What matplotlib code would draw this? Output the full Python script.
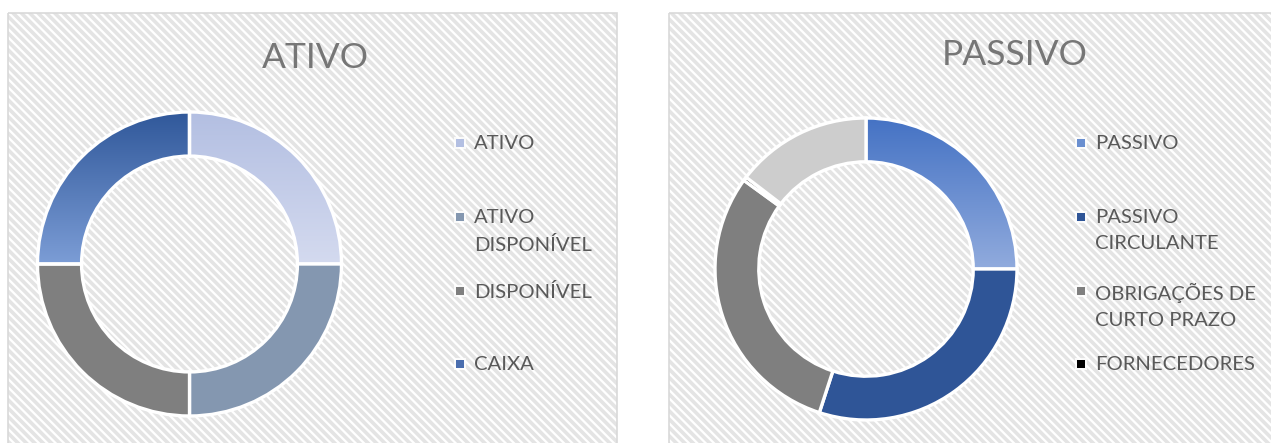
import numpy as np
import matplotlib
matplotlib.use("Agg")
import matplotlib.pyplot as plt
from matplotlib.patches import Rectangle
from matplotlib.colors import LinearSegmentedColormap

# ---------------- data ----------------
ativo_labels = ["ATIVO", "ATIVO\nDISPONÍVEL", "DISPONÍVEL", "CAIXA"]
ativo_values = [25, 25, 25, 25]
passivo_labels = ["PASSIVO", "PASSIVO\nCIRCULANTE", "OBRIGAÇÕES DE\nCURTO PRAZO", "FORNECEDORES", ""]
passivo_values = [25, 30, 30, 0.4, 14.6]

ativo_colors = ["#C2CBE8", "#8497B0", "#7F7F7F", "#4A6DAE"]
ativo_grad = {0: ("#B3BFE2", "#D4DAEF"), 3: ("#30589A", "#7C9DD6")}
passivo_colors = ["#6A8FD0", "#2F5597", "#7F7F7F", "#000000", "#CDCDCD"]
passivo_grad = {0: ("#4472C4", "#91ABDD")}

W, H = 1271, 443
plt.rcParams["hatch.linewidth"] = 2.6
plt.rcParams["font.family"] = ["Lato", "DejaVu Sans"]

fig = plt.figure(figsize=(W / 100, H / 100), dpi=100)
fig.patch.set_facecolor("white")

bg = fig.add_axes([0, 0, 1, 1])
bg.set_xlim(0, W)
bg.set_ylim(H, 0)
bg.axis("off")

for (x0, x1) in [(8, 617), (669, 1290)]:
    bg.add_patch(Rectangle((x0, 13), x1 - x0, 460, facecolor="white",
                           edgecolor="#E4E4E4", hatch="\\\\\\\\", linewidth=0))
    bg.add_patch(Rectangle((x0, 13), x1 - x0, 460, fill=False,
                           edgecolor="#D9D9D9", linewidth=1.2))


def donut(cx, cy, r, values, colors, grads):
    ax = fig.add_axes([(cx - r) / W, (H - cy - r) / H, 2 * r / W, 2 * r / H])
    wedges, _ = ax.pie(values, colors=colors, startangle=90, counterclock=False,
                       radius=1.0,
                       wedgeprops=dict(width=0.29, edgecolor="white", linewidth=2.4))
    ax.set_aspect("equal")
    ax.patch.set_alpha(0)
    for i, (top, bot) in grads.items():
        w = wedges[i]
        bb = w.get_path().get_extents()
        cmap = LinearSegmentedColormap.from_list("g", [bot, top])
        grad = np.linspace(0, 1, 256).reshape(-1, 1)
        im = ax.imshow(grad, cmap=cmap, origin="lower", aspect="auto",
                       extent=[bb.x0, bb.x1, bb.y0, bb.y1], zorder=w.get_zorder() - 0.1)
        im.set_clip_path(w)
        w.set_facecolor("none")
    ax.set_xlim(-1.02, 1.02)
    ax.set_ylim(-1.02, 1.02)
    return ax


donut(189.5, 264, 152 * 1.02, ativo_values, ativo_colors, ativo_grad)
donut(866, 269, 151 * 1.02, passivo_values, passivo_colors, passivo_grad)

txt = "#595959"
fig.text(315 / W, 1 - 58.5 / H, "ATIVO", fontsize=25.5, color="#767676",
         ha="center", va="center")
fig.text(1015 / W, 1 - 55 / H, "PASSIVO", fontsize=25.5, color="#767676",
         ha="center", va="center")

slot_y = [143, 217, 291, 364]


def legend(xsq, labels, colors):
    for lab, col, y in zip(labels, colors, slot_y):
        bg.add_patch(Rectangle((xsq - 2, y - 6), 12, 12, facecolor="white",
                               edgecolor="none", alpha=0.8))
        bg.add_patch(Rectangle((xsq, y - 4), 8, 8, facecolor=col, edgecolor="none"))
        bg.text(xsq + 18, y - 8, lab, fontsize=14.6, color=txt, ha="left",
                va="top", linespacing=1.64)


legend(456, ativo_labels, ["#B3BFE2", "#8497B0", "#7F7F7F", "#4A6DAE"])
legend(1077, passivo_labels[:4], ["#6A8FD0", "#2F5597", "#7F7F7F", "#000000"])

fig.savefig("out.png", dpi=100)
